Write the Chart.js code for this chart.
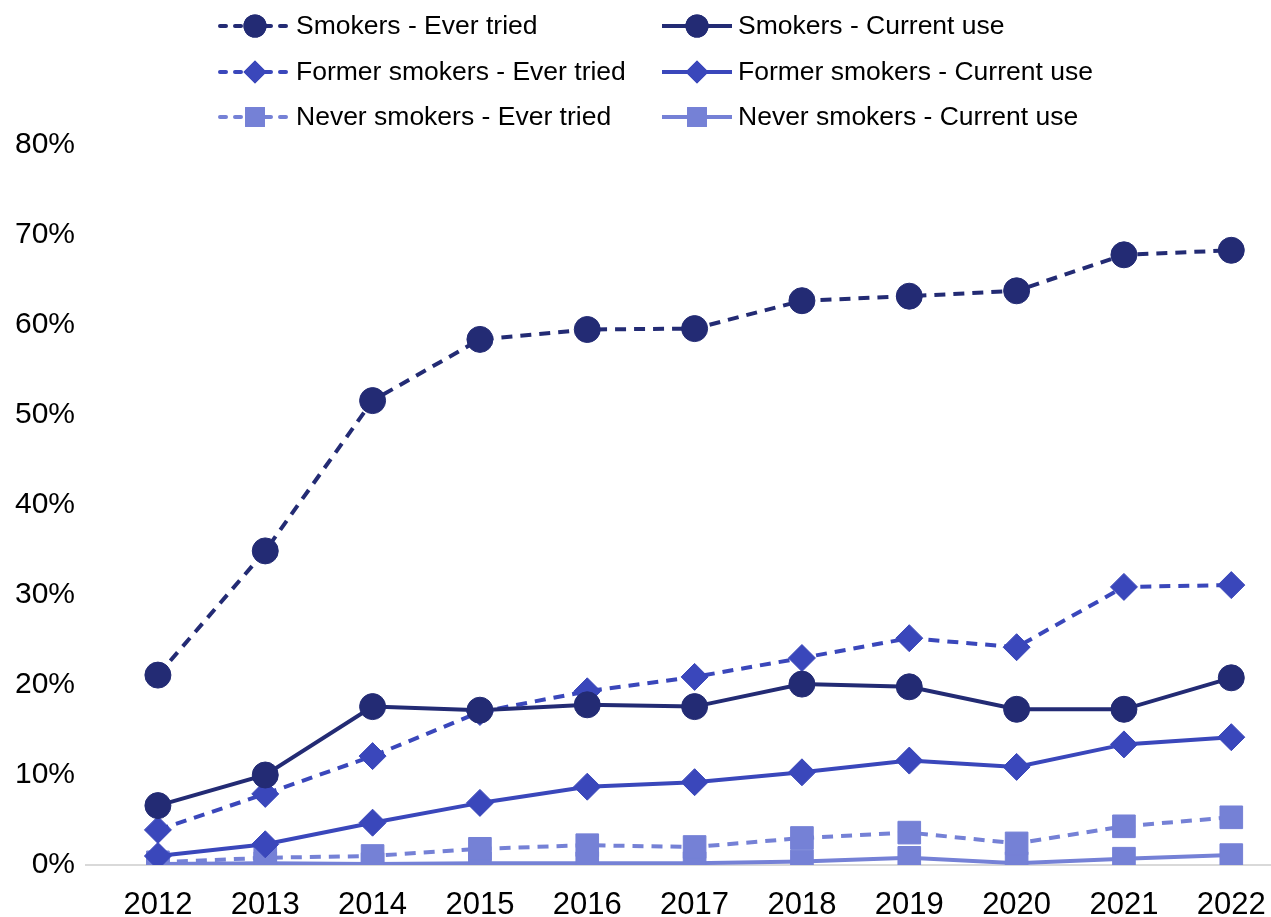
<!DOCTYPE html>
<html>
<head>
<meta charset="utf-8">
<script src="https://cdn.jsdelivr.net/npm/chart.js@4.4.0/dist/chart.umd.min.js"></script>
<style>
  html, body { margin: 0; padding: 0; background: #ffffff; }
  #wrap { width: 1271px; height: 917px; }
</style>
</head>
<body>
<div id="wrap"><canvas id="chart" width="1271" height="917"></canvas></div>
<script>
// years on the x axis
const years = ['2012', '2013', '2014', '2015', '2016', '2017', '2018', '2019', '2020', '2021', '2022'];

// shares (0..1)
const smokersEver     = [0.211, 0.349, 0.516, 0.584, 0.595, 0.596, 0.627, 0.632, 0.638, 0.678, 0.683];
const smokersCurrent  = [0.066, 0.100, 0.176, 0.172, 0.178, 0.176, 0.201, 0.198, 0.173, 0.173, 0.208];
const formerEver      = [0.039, 0.079, 0.121, 0.170, 0.193, 0.209, 0.230, 0.252, 0.242, 0.309, 0.311];
const formerCurrent   = [0.010, 0.023, 0.047, 0.069, 0.087, 0.092, 0.103, 0.116, 0.109, 0.134, 0.142];
const neverEver       = [0.003, 0.008, 0.010, 0.018, 0.022, 0.020, 0.030, 0.036, 0.024, 0.043, 0.053];
const neverCurrent    = [0.001, 0.002, 0.001, 0.002, 0.002, 0.002, 0.004, 0.008, 0.002, 0.007, 0.011];

const yTicks = [0, 0.1, 0.2, 0.3, 0.4, 0.5, 0.6, 0.7, 0.8];

const NAVY = '#232b74';
const BLUE = '#3a47bb';
const LILAC = '#7581d6';
const FONT = '"Liberation Sans", Arial, sans-serif';

function series(label, values, colour, dashed, style, radius) {
    return {
        label: label,
        data: values.map(function (v, i) { return { x: Number(years[i]), y: v }; }),
        borderColor: colour,
        backgroundColor: colour,
        pointBackgroundColor: colour,
        pointBorderColor: colour,
        borderWidth: 4,
        borderDash: dashed ? [11, 8] : [],
        pointStyle: style,
        pointRadius: radius,
        pointHoverRadius: radius,
        pointBorderWidth: 1,
        tension: 0
    };
}

const datasets = [
    series('Smokers - Ever tried', smokersEver, NAVY, true, 'circle', 13),
    series('Smokers - Current use', smokersCurrent, NAVY, false, 'circle', 13),
    series('Former smokers - Ever tried', formerEver, BLUE, true, 'rectRot', 13.5),
    series('Former smokers - Current use', formerCurrent, BLUE, false, 'rectRot', 13.5),
    series('Never smokers - Ever tried', neverEver, LILAC, true, 'rect', 16),
    series('Never smokers - Current use', neverCurrent, LILAC, false, 'rect', 16)
];

// legend drawn by hand: line sample with marker in the middle, two columns
const legendPlugin = {
    id: 'sampleLegend',
    afterDraw: function (chart) {
        const ctx = chart.ctx;
        const colX = [218, 660];
        const rowY = [26, 72, 117];
        ctx.save();
        chart.data.datasets.forEach(function (ds, i) {
            const x0 = colX[i % 2];
            const y = rowY[Math.floor(i / 2)];
            ctx.strokeStyle = ds.borderColor;
            ctx.lineWidth = 4;
            ctx.lineCap = ds.borderDash.length ? 'round' : 'butt';
            ctx.setLineDash(ds.borderDash.length ? [6, 9] : []);
            ctx.beginPath();
            ctx.moveTo(x0 + 2, y);
            ctx.lineTo(x0 + 72, y);
            ctx.stroke();
            ctx.setLineDash([]);
            ctx.fillStyle = ds.backgroundColor;
            Chart.helpers.drawPoint(ctx, { pointStyle: ds.pointStyle, radius: ds.pointStyle === 'rect' ? 14 : 11.5, borderWidth: 0 }, x0 + 37, y);
            ctx.fill();
            ctx.fillStyle = '#000000';
            ctx.font = '26.5px ' + FONT;
            ctx.textBaseline = 'middle';
            ctx.textAlign = 'left';
            ctx.fillText(ds.label, x0 + 78, y + 1);
        });
        ctx.restore();
    }
};

new Chart(document.getElementById('chart'), {
    type: 'line',
    data: { datasets: datasets },
    plugins: [legendPlugin],
    options: {
        responsive: false,
        animation: false,
        layout: { autoPadding: false, padding: { top: 145, right: 0, bottom: 0, left: 0 } },
        plugins: {
            legend: { display: false },
            tooltip: { enabled: false }
        },
        scales: {
            x: {
                type: 'linear',
                min: 2011.33,
                max: 2022.37,
                afterBuildTicks: function (s) { s.ticks = years.map(function (y) { return { value: Number(y) }; }); },
                afterFit: function (s) { s.height = 52; s.paddingLeft = 0; s.paddingRight = 0; },
                grid: { display: false, drawTicks: false },
                border: { display: true, color: '#d9d9d9', width: 2 },
                ticks: {
                    color: '#000000',
                    padding: 22,
                    maxRotation: 0,
                    autoSkip: false,
                    font: { family: FONT, size: 31 },
                    callback: function (v) { return String(v); }
                }
            },
            y: {
                min: 0,
                max: 0.8,
                afterBuildTicks: function (s) { s.ticks = yTicks.map(function (v) { return { value: v }; }); },
                afterFit: function (s) { s.width = 86; s.paddingTop = 0; s.paddingBottom = 0; },
                grid: { display: false, drawTicks: false },
                border: { display: false },
                ticks: {
                    color: '#000000',
                    padding: 11,
                    font: { family: FONT, size: 30 },
                    callback: function (v) { return Math.round(v * 100) + '%'; }
                }
            }
        }
    }
});
</script>
</body>
</html>
